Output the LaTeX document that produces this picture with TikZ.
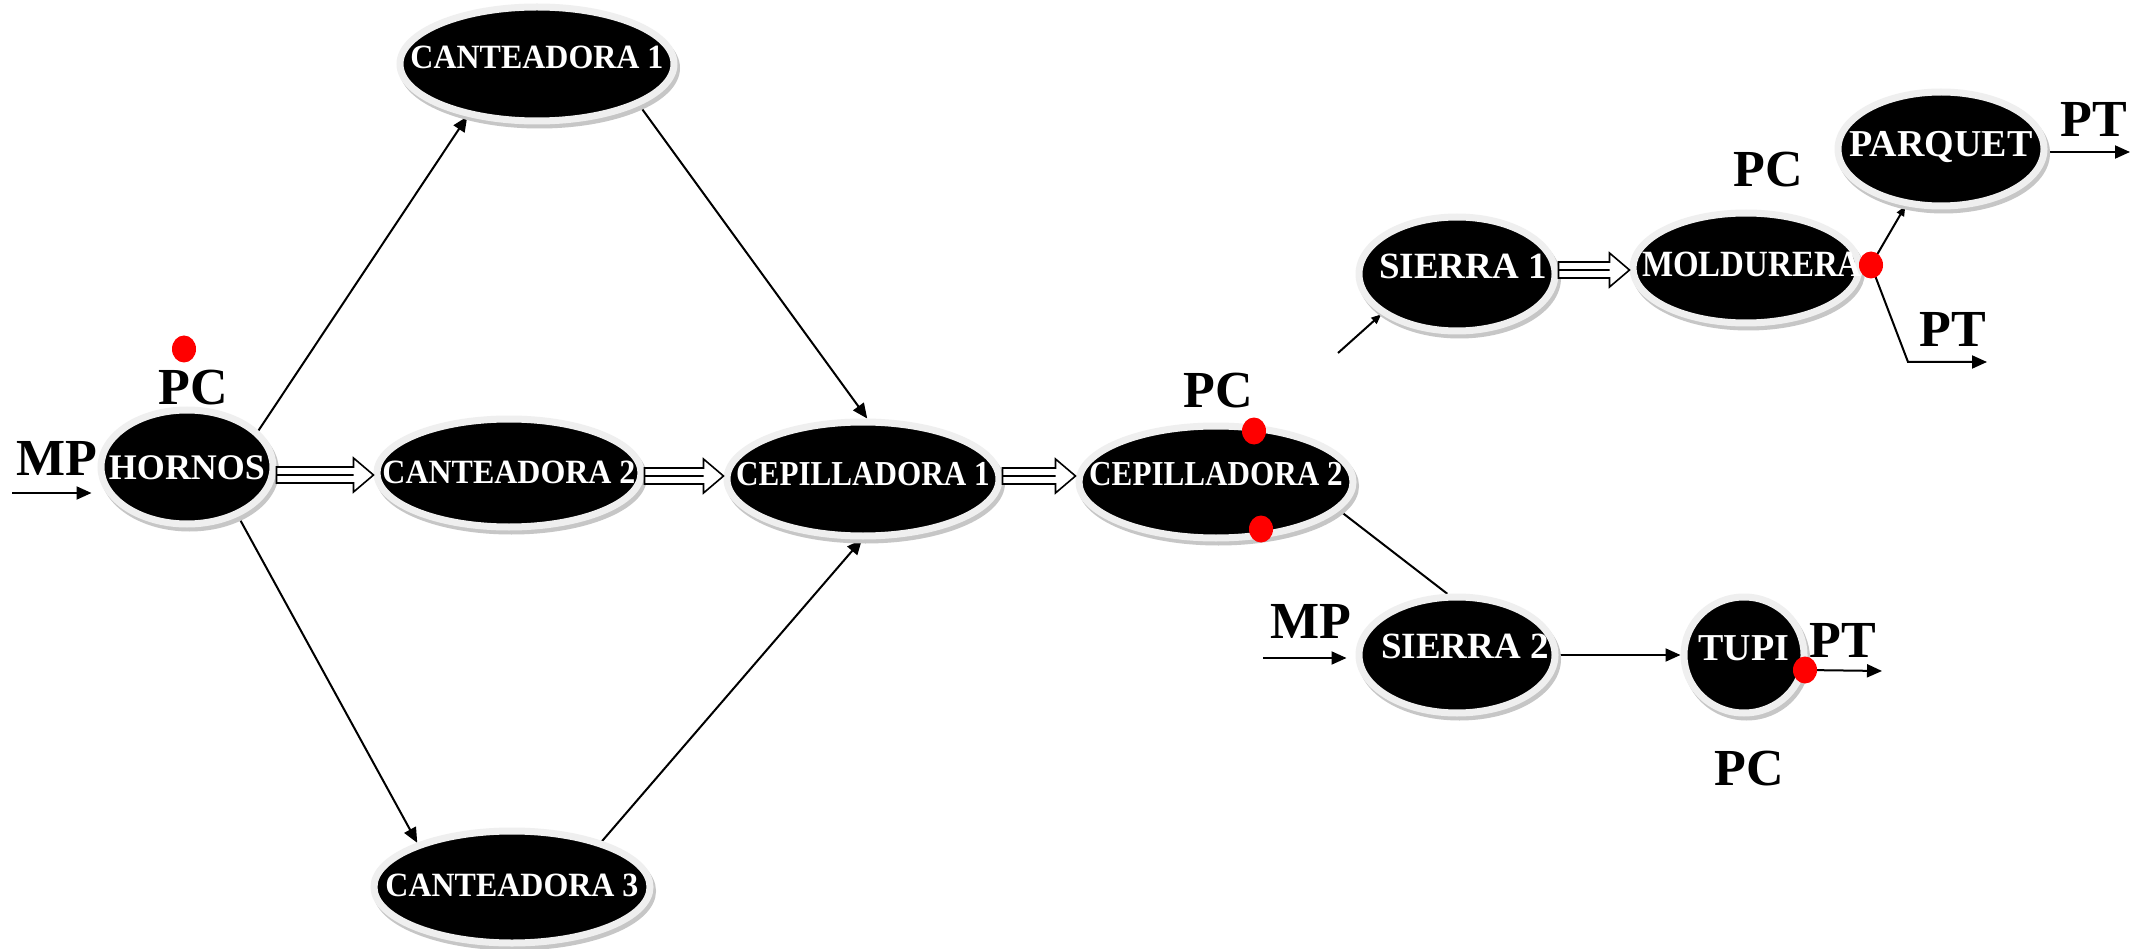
\documentclass[tikz,border=0pt]{standalone}
\usepackage{fontspec}
\usepackage{graphicx}
\setmainfont{Liberation Serif}
\usetikzlibrary{shapes.geometric,arrows.meta,shadows,calc}
\definecolor{rimgray}{HTML}{EFEFEF}
\definecolor{shadegray}{HTML}{C6C6C6}
\definecolor{pcred}{HTML}{FF0000}
\pgfdeclarelayer{back}
\pgfsetlayers{back,main}
% machine label of zero width, so that the ellipse keeps its given size
\newcommand{\mlabel}[2][1]{\makebox[0pt]{\scalebox{#1}[1]{#2}}}

\begin{document}
\begin{tikzpicture}[x=1pt,y=-1pt,
  machine/.style={ellipse, fill=black, draw=rimgray, line width=7pt, inner sep=0pt,
    text=white, text height=24pt, text depth=0pt,
    drop shadow={shadow xshift=2.5pt, shadow yshift=-4pt, fill=shadegray, draw=shadegray, opacity=1}},
  fs/.style={font=\bfseries\fontsize{#1}{#1}\selectfont},
  tag/.style={font=\bfseries\fontsize{52}{52}\selectfont, inner sep=0pt, text height=34pt, text depth=0pt},
  flow/.style={line width=2pt, -{Triangle[length=15pt,width=13pt]}},
  smallflow/.style={line width=2pt, -{Triangle[length=10pt,width=8pt]}},
  link/.style={line width=2pt},
  pcdot/.style={ellipse, fill=pcred, minimum width=24pt, minimum height=27pt, inner sep=0pt},
  blockarrow/.style={line width=1.6pt, fill=white, line join=miter, to path={
    let \p1=(\tikztostart), \p2=(\tikztotarget) in
    (\x1,\y1+8pt) -- (\x2-20pt,\y1+8pt) -- (\x2-20pt,\y1+17pt) -- (\x2,\y1)
    -- (\x2-20pt,\y1-17pt) -- (\x2-20pt,\y1-8pt) -- (\x1,\y1-8pt) -- cycle
    (\x1,\y1) -- (\x2-20pt,\y1)}}
]
\begin{pgfonlayer}{back}
\fill[white] (0,0) rectangle (2147,949);
\end{pgfonlayer}
\useasboundingbox (0,0) rectangle (2147,949);

% machines
\node[machine, fs=36, minimum width=172pt, minimum height=114pt] (hornos) at (187,467) {\mlabel{HORNOS}};
\node[machine, fs=34, text depth=14pt, minimum width=274pt, minimum height=114pt] (cant1) at (537,64) {\mlabel[.94]{CANTEADORA 1}};
\node[machine, fs=34, text depth=4pt, minimum width=264pt, minimum height=108pt] (cant2) at (509,473) {\mlabel[.94]{CANTEADORA 2}};
\node[machine, fs=34, text depth=6pt, minimum width=276pt, minimum height=112pt] (cant3) at (512,887) {\mlabel[.94]{CANTEADORA 3}};
\node[machine, fs=35, text depth=12pt, minimum width=272pt, minimum height=114pt] (cep1) at (863,479) {\mlabel[.89]{CEPILLADORA 1}};
\node[machine, fs=35, text depth=18pt, minimum width=274pt, minimum height=112pt] (cep2) at (1216,482) {\mlabel[.89]{CEPILLADORA 2}};
\node[machine, fs=37, text depth=14pt, minimum width=196pt, minimum height=114pt] (sierra1) at (1457,274) {\hspace{12pt}\mlabel{SIERRA 1}};
\node[machine, fs=37, text depth=6pt, minimum width=226pt, minimum height=110pt] (moldurera) at (1746,268) {\hspace{12pt}\mlabel[.89]{MOLDURERA}};
\node[machine, fs=38, text depth=9pt, minimum width=206pt, minimum height=114pt] (parquet) at (1941,149) {\mlabel{PARQUET}};
\node[machine, fs=37, text depth=17pt, minimum width=196pt, minimum height=116pt] (sierra2) at (1457,655) {\hspace{16pt}\mlabel{SIERRA 2}};
\node[machine, fs=38, text depth=13pt, minimum width=120pt, minimum height=116pt] (tupi) at (1744,655) {\mlabel{TUPI}};

% labels
\node[tag] (pcH) at (193,388) {PC};
\node[tag] (mpH) at (57,458) {MP};
\node[tag] (pcC) at (1218,390) {PC};
\node[tag] (pcM) at (1768,170) {PC};
\node[tag] (ptP) at (2094,120) {PT};
\node[tag] (ptM) at (1953,330) {PT};
\node[tag] (ptT) at (1843,640) {PT};
\node[tag] (pcT) at (1749,768) {PC};
\node[tag] (mpS) at (1311,621) {MP};

% free ends of the input and output arrows
\coordinate (mpin) at (12,493);
\coordinate (mp2in) at (1263,658);
\coordinate (s1in) at (1338,353);
\coordinate (ptA) at (2130,152);
\coordinate (bend) at (1908,362);
\coordinate (ptB) at (1987,362);
\coordinate (ptC) at (1882,671);

% hollow transfer arrows
\draw[blockarrow] ([yshift=-8pt]hornos.east) to (cant2.west);
\draw[blockarrow] ([yshift=-3pt]cant2.east) to (cep1.west);
\draw[blockarrow] ([yshift=3pt]cep1.east) to (cep2.west);
\draw[blockarrow] ([yshift=4pt]sierra1.east) to (moldurera.west);

% control points
\node[pcdot] (dotH) at (184,349) {};
\node[pcdot] (dotC1) at (1254,431) {};
\node[pcdot] (dotC2) at (1261,529) {};
\node[pcdot] (dotM) at (1871,265) {};
\node[pcdot] (dotT) at (1805,670) {};

% connectors
\begin{pgfonlayer}{back}
\draw[flow] (hornos.27) -- (cant1.-143);
\draw[flow] (cant1.-22) -- (cep1.86);
\draw[flow] (hornos.-44) -- (cant3.155);
\draw[flow] (cant3.27) -- (cep1.-91);
\draw[flow, shorten >=6pt] (mpin) -- (mpin -| hornos.west);
\draw[link] (cep2.-13.5) -- (sierra2.99.5);
\draw[smallflow] (s1in) -- (sierra1.208);
\draw[smallflow] (dotM.center) -- (parquet.238);
\draw[flow] (dotM.center) -- (bend) -- (ptB);
\draw[flow] (parquet.east |- ptA) -- (ptA);
\draw[flow, shorten >=9pt] (mp2in) -- (mp2in -| sierra2.west);
\draw[flow] (sierra2.east) -- (tupi.west);
\draw[flow] (dotT.center) -- (ptC);
\end{pgfonlayer}
\end{tikzpicture}
\end{document}
